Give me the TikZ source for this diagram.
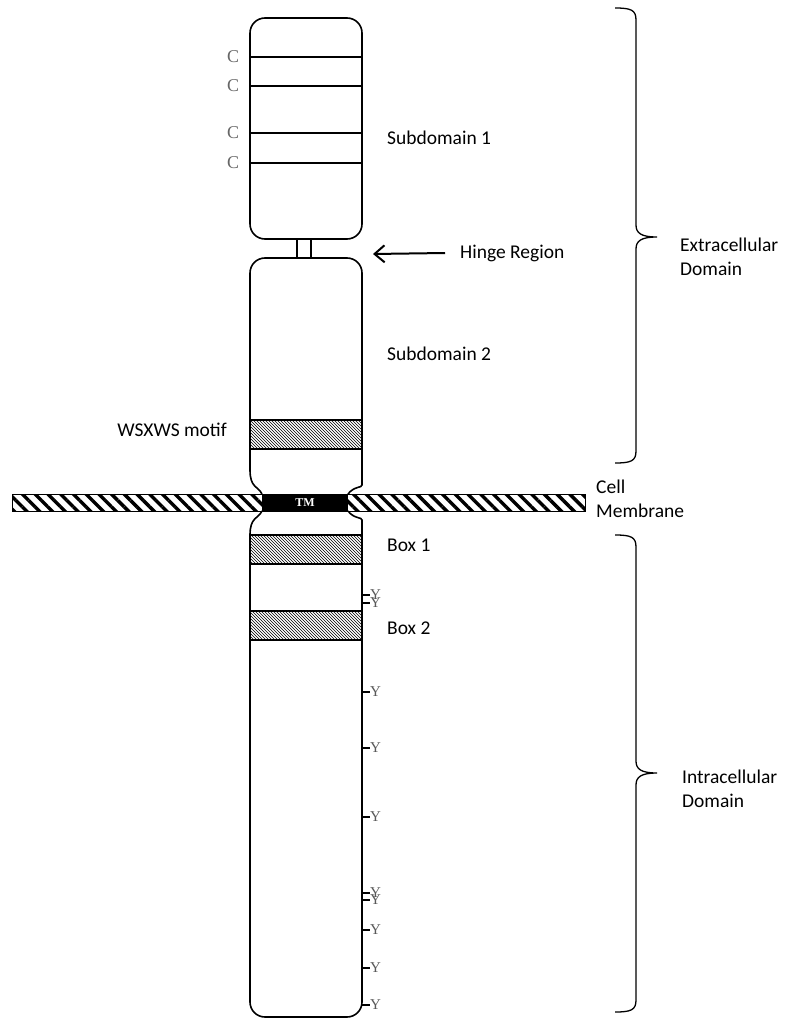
\documentclass[tikz,border=0pt]{standalone}
\usepackage{fontspec}
\setmainfont{Carlito}
\newfontfamily\labelserif{Liberation Serif}
\usetikzlibrary{patterns,patterns.meta,arrows.meta}

\tikzset{
  outline/.style={line width=1.6pt},
  band/.style={line width=1.2pt, pattern=north west lines},
  lbl/.style={anchor=west, inner sep=0pt, font=\fontsize{19.5}{24}\selectfont, align=left},
  cres/.style={text=black!60, inner sep=0pt, font=\labelserif\fontsize{18}{20}\selectfont},
  tyr/.style={anchor=west, text=black!65, inner sep=0pt, font=\labelserif\fontsize{15}{16}\selectfont},
  brace/.style={line width=1.3pt}
}

\begin{document}
\begin{tikzpicture}[x=1pt, y=-1pt]
  \useasboundingbox (0,0) rectangle (787,1019);

  % Subdomain 1 with the four cysteine lines
  \draw[outline, rounded corners=15] (250,18) rectangle (362,239);
  \foreach \yy in {57,86,133,163} {
    \draw[outline] (250,\yy) -- (362,\yy);
    \node[cres] at (233,\yy) {C};
  }

  % Hinge
  \draw[line width=1.2pt] (297,239) -- (297,258);
  \draw[line width=1.2pt] (311,239) -- (311,258);

  % Subdomain 2 down to the membrane
  \draw[outline] (262,494) .. controls (258,486) and (250,488) .. (250,470)
    [rounded corners=15] -- (250,258) -- (362,258) -- (362,470)
    [sharp corners] .. controls (362,488) and (354,486) .. (348,494);
  \draw[band] (250,420) rectangle (362,449);

  % Membrane
  \draw[line width=0.6pt, pattern={Lines[angle=-45, distance=9pt, line width=3.4pt]}]
    (12,494) rectangle (585,511);
  \node[fill=black, minimum width=86pt, minimum height=17pt, inner sep=0pt,
        text=white, font=\labelserif\bfseries\fontsize{12}{12}\selectfont] (tm) at (305,502.5) {TM};

  % Intracellular part
  \draw[outline] (262,511) .. controls (258,519) and (250,517) .. (250,535)
    [rounded corners=15] -- (250,1017) -- (362,1017) -- (362,535)
    [sharp corners] .. controls (362,517) and (354,519) .. (348,511);
  \draw[band] (250,535) rectangle (362,564);
  \draw[band] (250,611) rectangle (362,640);

  % Tyrosines
  \foreach \yy in {595,603,692,748,817,893,900,930,968,1005} {
    \draw[line width=1.2pt] (362,\yy) -- (370,\yy);
    \node[tyr] at (370,\yy) {Y};
  }

  % Labels
  \node[lbl] (sub1) at (387,138) {Subdomain 1};
  \node[lbl] (hinge) at (460,253) {Hinge Region};
  \coordinate (hingept) at (373,254);
  \draw[line width=2pt, -{Straight Barb[length=10pt, width=17pt]}] ([xshift=-15pt]hinge.west) -- (hingept);
  \node[lbl] (sub2) at (387,354) {Subdomain 2};
  \node[lbl, anchor=east] (motif) at (227,430) {WSXWS motif};
  \node[lbl] (box1) at (387,545) {Box 1};
  \node[lbl] (box2) at (387,628) {Box 2};
  \node[lbl] (memb) at (596,499) {Cell\\Membrane};
  \node[lbl] (extra) at (680,257) {Extracellular\\Domain};
  \node[lbl] (intra) at (682,789) {Intracellular\\Domain};

  % Braces
  \draw[brace] (615,8) .. controls (631,8) and (636,10) .. (636,20) -- (636,225)
    .. controls (636,233) and (641,237) .. (657,237)
    .. controls (641,237) and (636,241) .. (636,249) -- (636,451)
    .. controls (636,461) and (631,463) .. (615,463);
  \draw[brace] (615,535) .. controls (631,535) and (636,537) .. (636,547) -- (636,761)
    .. controls (636,769) and (641,773) .. (657,773)
    .. controls (641,773) and (636,777) .. (636,785) -- (636,1000)
    .. controls (636,1010) and (631,1012) .. (615,1012);
\end{tikzpicture}
\end{document}
